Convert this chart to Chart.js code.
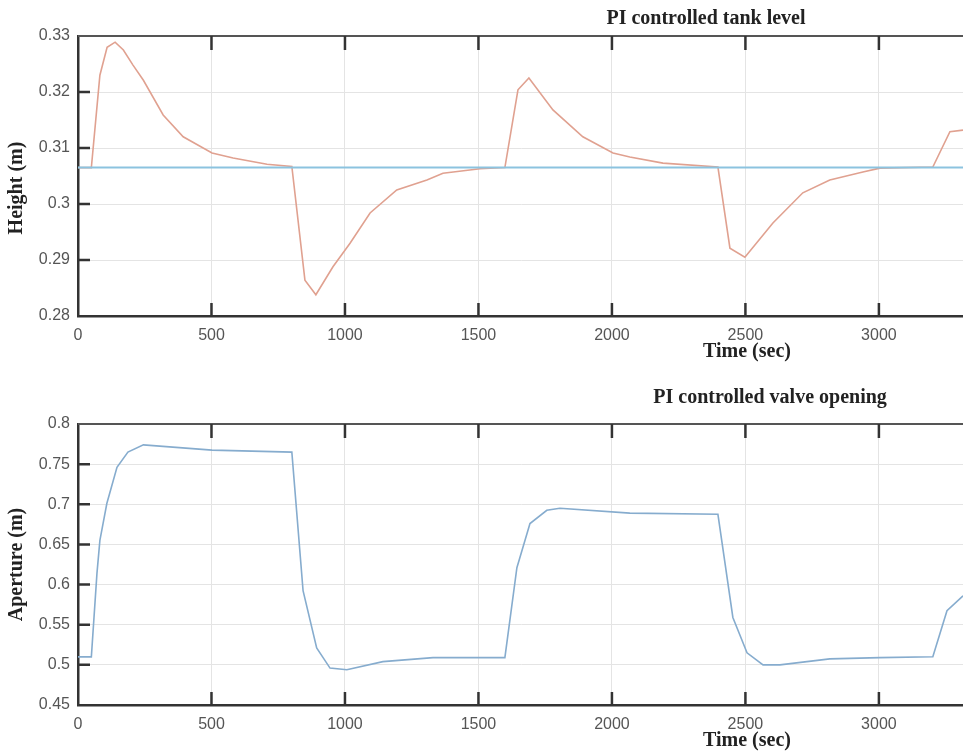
<!DOCTYPE html>
<html>
<head>
<meta charset="utf-8">
<script src="https://cdn.jsdelivr.net/npm/chart.js@4.4.0/dist/chart.umd.min.js"></script>
<style>
  body { margin: 0; background: #fff; width: 963px; height: 751px; overflow: hidden; }
  .panel { position: absolute; left: 0; width: 963px; }
</style>
</head>
<body>
<div class="panel" style="top:0;height:375px"><canvas id="level"></canvas></div>
<div class="panel" style="top:375px;height:376px"><canvas id="valve"></canvas></div>
<script>
// tank level (m) vs time (sec)
var levelTime = [0, 50, 82, 109, 139, 170, 206, 245, 319, 394, 502, 581, 708, 801, 850, 891,
    955, 1019, 1094, 1194, 1307, 1367, 1506, 1599, 1648, 1689, 1779, 1891, 2004, 2067, 2191,
    2397, 2442, 2498, 2603, 2715, 2816, 2940, 3004, 3202, 3266, 3315];
var levelHeight = [0.3065, 0.3065, 0.323, 0.328, 0.3289, 0.3275, 0.3248, 0.3221, 0.3159, 0.312,
    0.3091, 0.3082, 0.3071, 0.3067, 0.2864, 0.2838, 0.2888, 0.293, 0.2984, 0.3025, 0.3043,
    0.3055, 0.3063, 0.3065, 0.3204, 0.3225, 0.3168, 0.312, 0.3091, 0.3084, 0.3073, 0.3066,
    0.2921, 0.2905, 0.2966, 0.302, 0.3043, 0.3057, 0.3064, 0.3066, 0.3129, 0.3132];
var setpointTime = [0, 3315];
var setpointHeight = [0.3065, 0.3065];

// valve aperture (m) vs time (sec)
var valveTime = [0, 50, 71, 82, 108, 146, 187, 245, 502, 801, 843, 894, 944, 1007, 1142, 1330,
    1599, 1644, 1693, 1756, 1805, 2067, 2397, 2453, 2506, 2566, 2629, 2816, 3004, 3202, 3255, 3315];
var valveAperture = [0.51, 0.51, 0.614, 0.655, 0.701, 0.746, 0.765, 0.774, 0.7675, 0.765, 0.5925,
    0.521, 0.496, 0.494, 0.504, 0.509, 0.509, 0.621, 0.676, 0.6925, 0.695, 0.689, 0.6875, 0.559,
    0.515, 0.5, 0.5, 0.5075, 0.509, 0.51, 0.5675, 0.586];

var xTicks = [0, 500, 1000, 1500, 2000, 2500, 3000];
var levelTicks = [0.28, 0.29, 0.3, 0.31, 0.32, 0.33];
var valveTicks = [0.45, 0.5, 0.55, 0.6, 0.65, 0.7, 0.75, 0.8];

var serif = '"Liberation Serif", "DejaVu Serif", serif';
var sans = '"Liberation Sans", Arial, sans-serif';

function points(xs, ys) {
    var out = [];
    for (var i = 0; i < xs.length; i++) {
        out.push({x: xs[i], y: ys[i]});
    }
    return out;
}

function fmt(v) {
    return String(parseFloat(v.toFixed(2)));
}

// frame draws the top border, the inward tick marks and the matlab style texts.
var frame = {
    id: 'frame',
    afterDraw: function(chart, args, opts) {
        var ctx = chart.ctx;
        var a = chart.chartArea;
        var xs = chart.scales.x, ys = chart.scales.y;
        ctx.save();
        ctx.strokeStyle = '#555';
        ctx.lineWidth = 2;
        ctx.beginPath();
        ctx.moveTo(a.left, a.top);
        ctx.lineTo(a.right, a.top);
        ctx.stroke();

        ctx.strokeStyle = '#333';
        ctx.lineWidth = 2.5;
        ctx.beginPath();
        xs.ticks.forEach(function(t) {
            if (t.value == xs.min) return;
            var px = xs.getPixelForValue(t.value);
            ctx.moveTo(px, a.bottom);
            ctx.lineTo(px, a.bottom - 13);
            ctx.moveTo(px, a.top);
            ctx.lineTo(px, a.top + 14);
        });
        ys.ticks.forEach(function(t) {
            if (t.value == ys.min || t.value == ys.max) return;
            var py = ys.getPixelForValue(t.value);
            ctx.moveTo(a.left, py);
            ctx.lineTo(a.left + 12, py);
        });
        ctx.stroke();

        ctx.fillStyle = '#222';
        ctx.font = 'bold 20px ' + serif;
        ctx.textAlign = 'center';
        ctx.textBaseline = 'middle';
        var w = a.right - a.left;
        ctx.fillText(opts.title, a.left + w * opts.titlePos, a.top - opts.titleGap);
        ctx.fillText('Time (sec)', 747, a.bottom + 36);
        ctx.translate(17, (a.top + a.bottom) / 2 + opts.yLabelShift);
        ctx.rotate(-Math.PI / 2);
        ctx.fillText(opts.yLabel, 0, 0);
        ctx.restore();
    }
};

function makeChart(id, datasets, yMin, yMax, yTicks, padTop, xHeight, texts) {
    new Chart(document.getElementById(id), {
        type: 'line',
        data: { datasets: datasets },
        plugins: [frame],
        options: {
            responsive: true,
            maintainAspectRatio: false,
            animation: false,
            layout: { padding: { top: padTop, left: 0, right: 0, bottom: 0 } },
            plugins: {
                legend: { display: false },
                tooltip: { enabled: false },
                frame: texts,
            },
            elements: { point: { radius: 0 }, line: { tension: 0 } },
            scales: {
                x: {
                    type: 'linear',
                    min: 0,
                    max: 3315,
                    afterBuildTicks: function(s) {
                        s.ticks = xTicks.map(function(v) { return {value: v}; });
                    },
                    afterFit: function(s) { s.height = xHeight; },
                    grid: { color: '#e4e4e4', lineWidth: 1, drawTicks: false },
                    border: { display: true, color: '#333', width: 2.5 },
                    ticks: {
                        padding: 10,
                        maxRotation: 0,
                        color: '#555',
                        font: { family: sans, size: 16 },
                        callback: function(v) { return String(v); },
                    },
                },
                y: {
                    min: yMin,
                    max: yMax,
                    afterBuildTicks: function(s) {
                        s.ticks = yTicks.map(function(v) { return {value: v}; });
                    },
                    afterFit: function(s) { s.width = 78; },
                    grid: { color: '#e4e4e4', lineWidth: 1, drawTicks: false },
                    border: { display: true, color: '#333', width: 2.5 },
                    ticks: {
                        padding: 8,
                        color: '#555',
                        font: { family: sans, size: 16 },
                        callback: function(v) { return fmt(v); },
                    },
                },
            },
        },
    });
}

makeChart('level', [
    {
        data: points(setpointTime, setpointHeight),
        borderColor: '#8cc3df',
        borderWidth: 2,
    },
    {
        data: points(levelTime, levelHeight),
        borderColor: '#e0a190',
        borderWidth: 1.6,
    },
], 0.28, 0.33, levelTicks, 36, 59,
    {title: 'PI controlled tank level', titlePos: 0.7096, titleGap: 17,
     yLabel: 'Height (m)', yLabelShift: 12});

makeChart('valve', [
    {
        data: points(valveTime, valveAperture),
        borderColor: '#86acce',
        borderWidth: 1.6,
    },
], 0.45, 0.8, valveTicks, 49, 46,
    {title: 'PI controlled valve opening', titlePos: 0.782, titleGap: 26,
     yLabel: 'Aperture (m)', yLabelShift: 0});
</script>
</body>
</html>
